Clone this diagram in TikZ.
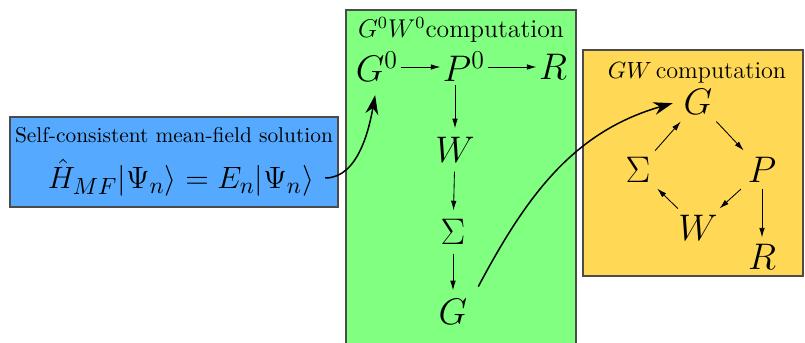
\documentclass[tikz,border=0pt]{standalone}
\usetikzlibrary{arrows.meta}
\definecolor{boxblue}{RGB}{85,170,255}
\definecolor{boxgreen}{RGB}{128,255,128}
\definecolor{boxyellow}{RGB}{255,217,85}
\definecolor{boxedge}{RGB}{75,75,75}
\begin{document}
\begin{tikzpicture}[x=0.467pt,y=-0.467pt,
  panel/.style={draw=boxedge,line width=0.7pt},
  sym/.style={font=\fontsize{16.5}{19}\selectfont,inner sep=1pt},
  thin/.style={-{Latex[length=4.5pt,width=2.6pt]},line width=0.4pt},
  bigarrow/.style={-{Stealth[length=9pt,width=6pt]},line width=0.7pt}]
\useasboundingbox (0,0) rectangle (805,343);
% panels
\fill[boxblue] (10,117) rectangle (338,207);
\draw[panel] (10,117) rectangle (338,207);
\fill[boxgreen] (346,10) rectangle (576,346);
\draw[panel] (346,346) -- (346,10) -- (576,10) -- (576,346);
\fill[boxyellow] (583,50) rectangle (803,276);
\draw[panel] (583,50) rectangle (803,276);
% blue
\node[inner sep=1pt] (t1) at (174,135) {Self-consistent mean-field solution};
\node[font=\fontsize{15.3}{17}\selectfont,inner sep=0pt] (eq) at (181,178) {$\hat{H}_{MF}|\Psi_n\rangle = E_n|\Psi_n\rangle$};
% green
\node[font=\fontsize{12}{14}\selectfont] (t2) at (461,30) {$G^0W^0$computation};
\node[sym] (G0) at (377,67) {$G^0$};
\node[sym] (P0) at (464,67) {$P^0$};
\node[sym] (R0) at (553,67) {$R$};
\node[sym,inner sep=4pt] (W0) at (455,150) {$W$};
\node[sym,inner sep=4pt] (S0) at (453,232) {$\Sigma$};
\node[sym,inner sep=4pt] (Gg) at (453,312) {$G$};
\draw[thin] (G0) -- (P0);
\draw[thin] (P0) -- (R0);
\draw[thin] (P0.south -| W0) -- (W0);
\draw[thin] (W0) -- (S0);
\draw[thin] (S0) -- (Gg);
% yellow
\node[font=\fontsize{11.3}{13}\selectfont] (t3) at (697,73) {$GW$\,computation};
\node[sym,inner sep=3pt] (G1) at (698,102) {$G$};
\node[sym,inner sep=3pt] (S1) at (638,170) {$\Sigma$};
\node[sym,inner sep=3pt] (P1) at (762,170) {$P$};
\node[sym,inner sep=3pt] (W1) at (698,228) {$W$};
\node[sym,inner sep=3pt] (R1) at (762,257) {$R$};
\draw[thin] (G1) -- (P1);
\draw[thin] (P1) -- (W1);
\draw[thin] (W1) -- (S1);
\draw[thin] (S1) -- (G1);
\draw[thin] (P1.south) -- (R1.north);
% big curved arrows
\draw[bigarrow,shorten <=5pt,shorten >=5pt] (eq.east) to[out=0,in=-100] (G0.south);
\draw[bigarrow,shorten <=2pt,shorten >=2pt] (Gg.north east) to[out=62,in=196] (G1.west);
\end{tikzpicture}
\end{document}
